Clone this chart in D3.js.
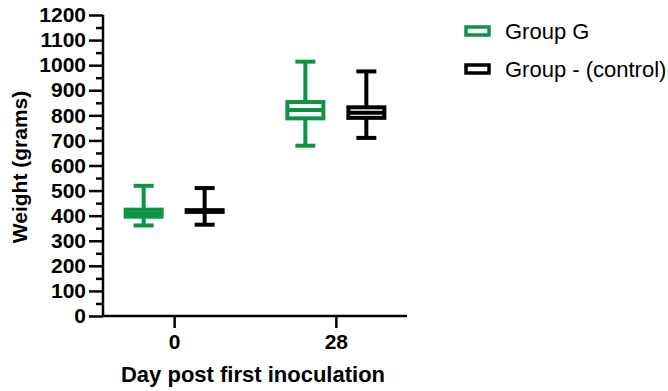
<!DOCTYPE html>
<html lang="en">
<head>
  <meta charset="UTF-8">
  <title>Weight by day post first inoculation</title>
  <script src="https://d3js.org/d3.v7.min.js"></script>
  <style>
    body { margin: 0; background: #fff; font-family: "Liberation Sans", Arial, sans-serif; }
    svg { display: block; }
  </style>
</head>
<body>
  <svg width="668" height="391"></svg>
  <script>
  // Data (grams)
  const days = ["0", "28"];
  const groups = ["Group G", "Group - (control)"];
  const colors = ["#0b9447", "#000000"];
  // one entry per day, per group: [min, q1, median, q3, max]
  const groupG   = [[361, 396, 410, 424, 519], [679, 788, 821, 853, 1014]];
  const groupCtl = [[364, 415, 419, 422, 510], [710, 790, 810, 832, 975]];
  const yTicks = d3.range(0, 1201, 100);

  const width = 668, height = 391;
  const svg = d3.select("svg");

  const x = d3.scalePoint().domain(days).range([103, 407]).padding(0.44);
  const xg = d3.scalePoint().domain(groups).range([-30.5, 30.5]);
  const y = d3.scaleLinear().domain([0, 1200]).range([316, 15]);

  const boxW = 40, capW = 20, sw = 4;

  // Axes
  const yAxis = svg.append("g")
    .attr("transform", "translate(103,0)")
    .call(d3.axisLeft(y).tickValues(yTicks).tickSize(14).tickPadding(3).tickFormat(d3.format("d")));
  // minor ticks
  svg.append("g")
    .attr("transform", "translate(103,0)")
    .call(d3.axisLeft(y).tickValues(d3.range(50, 1200, 100)).tickSize(7).tickFormat(""))
    .select(".domain").remove();

  const xAxis = svg.append("g")
    .attr("transform", "translate(0,316)")
    .call(d3.axisBottom(x).tickSize(12).tickPadding(6));

  svg.selectAll(".domain").attr("stroke", "#000").attr("stroke-width", 2.5);
  svg.selectAll(".tick line").attr("stroke", "#000").attr("stroke-width", 2.5);
  svg.selectAll(".tick text")
    .attr("fill", "#000")
    .style("font-family", "'Liberation Sans', Arial, sans-serif")
    .style("font-weight", "bold")
    .style("font-size", "21px");
  yAxis.select(".domain").attr("d", "M0,316V15");
  xAxis.select(".domain").attr("d", "M103,0H407");

  // Axis titles
  svg.append("text")
    .attr("x", 253).attr("y", 382)
    .attr("text-anchor", "middle")
    .style("font-weight", "bold").style("font-size", "22px")
    .text("Day post first inoculation");
  svg.append("text")
    .attr("transform", "translate(27,167) rotate(-90)")
    .attr("text-anchor", "middle")
    .style("font-weight", "bold").style("font-size", "21px")
    .text("Weight (grams)");

  // Boxes
  const series = [groupG, groupCtl];
  series.forEach((vals, gi) => {
    const col = colors[gi];
    vals.forEach((v, di) => {
      const cx = x(days[di]) + xg(groups[gi]);
      const [mn, q1, md, q3, mx] = v;
      const g = svg.append("g").attr("stroke", col).attr("stroke-width", sw).attr("fill", "none");
      g.append("line").attr("x1", cx).attr("x2", cx).attr("y1", y(mx)).attr("y2", y(q3));
      g.append("line").attr("x1", cx).attr("x2", cx).attr("y1", y(q1)).attr("y2", y(mn));
      g.append("line").attr("x1", cx - capW / 2).attr("x2", cx + capW / 2).attr("y1", y(mx)).attr("y2", y(mx));
      g.append("line").attr("x1", cx - capW / 2).attr("x2", cx + capW / 2).attr("y1", y(mn)).attr("y2", y(mn));
      g.append("rect")
        .attr("x", cx - boxW / 2 + sw / 2).attr("width", boxW - sw)
        .attr("y", y(q3)).attr("height", y(q1) - y(q3))
        .attr("fill", "#fff");
      g.append("line").attr("x1", cx - boxW / 2 + sw / 2).attr("x2", cx + boxW / 2 - sw / 2)
        .attr("y1", y(md)).attr("y2", y(md));
    });
  });

  // Legend
  const legend = svg.append("g").attr("transform", "translate(466,0)");
  groups.forEach((name, i) => {
    const ly = 31 + i * 38;
    legend.append("rect")
      .attr("x", 0).attr("y", ly - 4).attr("width", 23).attr("height", 8)
      .attr("fill", "#fff").attr("stroke", colors[i]).attr("stroke-width", 3.5);
    legend.append("text")
      .attr("x", 39).attr("y", ly + 8)
      .style("font-size", "22px")
      .text(name);
  });
  </script>
</body>
</html>
